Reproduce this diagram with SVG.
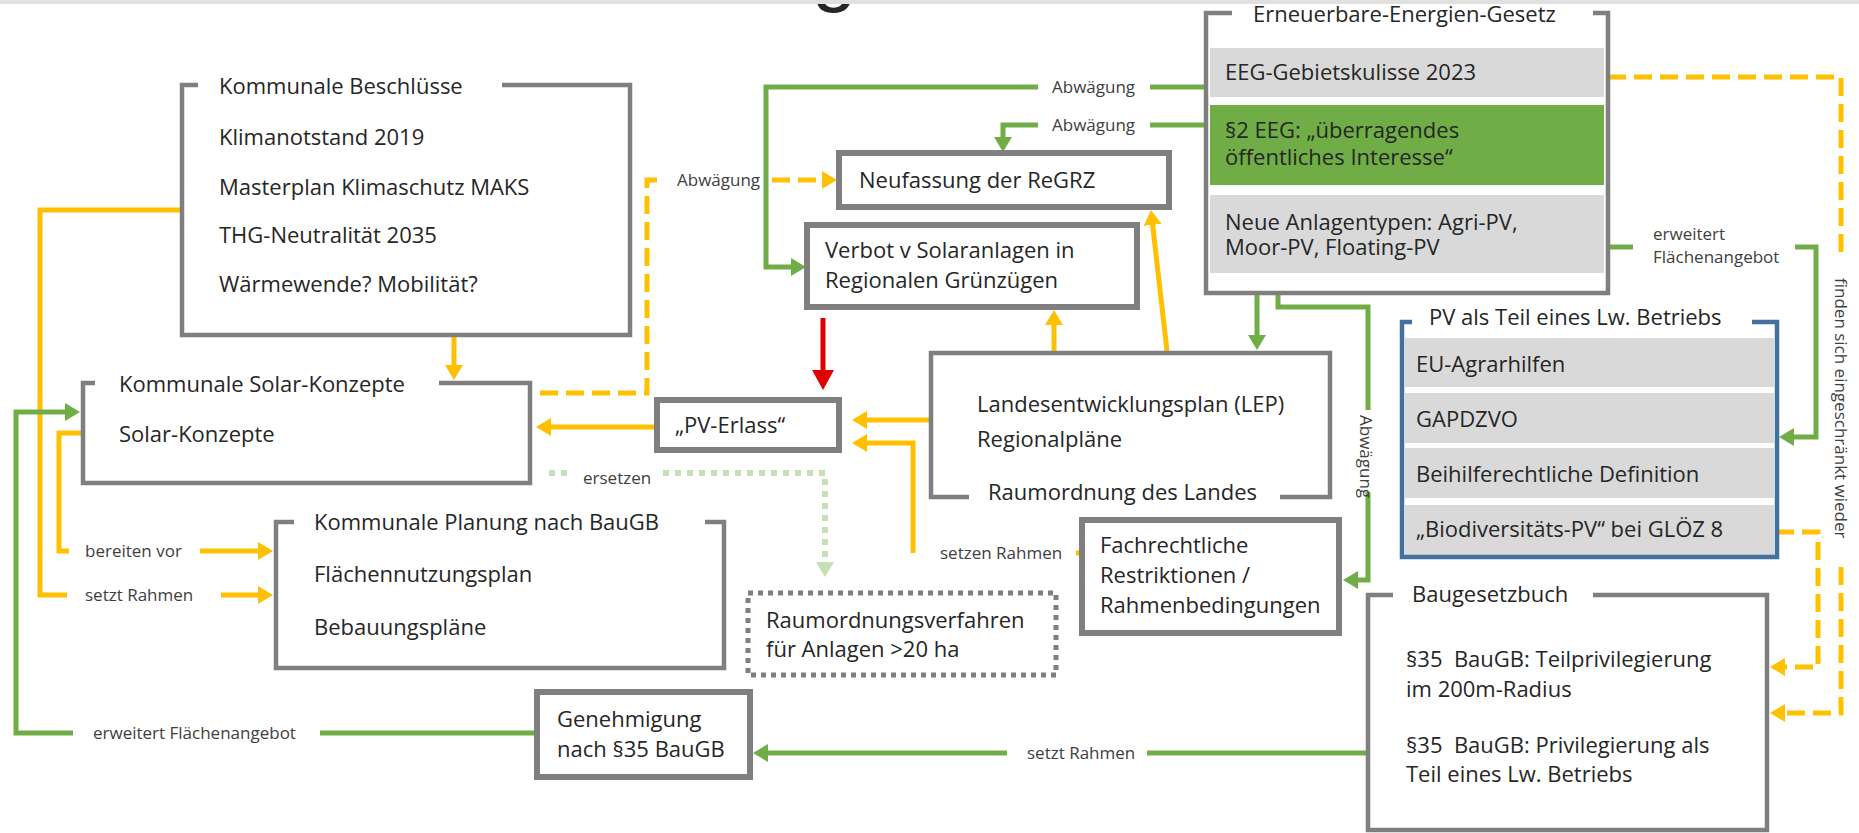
<svg xmlns="http://www.w3.org/2000/svg" width="1859" height="833" viewBox="0 0 1859 833">
<style>
.t{font-family:"Open Sans","Liberation Sans",sans-serif;font-size:22px;fill:#262626}
.s{font-family:"Open Sans","Liberation Sans",sans-serif;font-size:17px;fill:#404040}
.fr{fill:none;stroke:#7f7f7f;stroke-width:4.5}
.tk{fill:#fff;stroke:#7f7f7f;stroke-width:6}
.y{fill:none;stroke:#ffc000;stroke-width:5}
.gr{fill:none;stroke:#70ad47;stroke-width:5}
.d{stroke-dasharray:18 8}
.lg{fill:none;stroke:#c5e0b4;stroke-width:6;stroke-dasharray:6 6}
.gy{fill:#d9d9d9}
</style>
<defs>
<marker id="my" viewBox="0 -9 15 18" refX="3" refY="0" markerWidth="15" markerHeight="18" markerUnits="userSpaceOnUse" orient="auto"><path d="M0,-9 L15,0 L0,9 z" fill="#ffc000"/></marker>
<marker id="mg" viewBox="0 -9 15 18" refX="3" refY="0" markerWidth="15" markerHeight="18" markerUnits="userSpaceOnUse" orient="auto"><path d="M0,-9 L15,0 L0,9 z" fill="#70ad47"/></marker>
<marker id="ml" viewBox="0 -9 15 18" refX="3" refY="0" markerWidth="15" markerHeight="18" markerUnits="userSpaceOnUse" orient="auto"><path d="M0,-9 L15,0 L0,9 z" fill="#c5e0b4"/></marker>
<marker id="mr" viewBox="0 -11 20 22" refX="4" refY="0" markerWidth="20" markerHeight="22" markerUnits="userSpaceOnUse" orient="auto"><path d="M0,-11 L20,0 L0,11 z" fill="#e00000"/></marker>
</defs>
<rect x="0" y="0" width="1859" height="833" fill="#fff"/>
<text x="812" y="-4" font-family="Liberation Sans, sans-serif" font-size="80" fill="#262626">g</text>
<rect x="0" y="0" width="1859" height="4" fill="#e0e0e0"/>

<g id="connectors">
<path class="y" d="M182,210 H40 V595 H67"/>
<path class="y" d="M221,595 H261" marker-end="url(#my)"/>
<path class="y" d="M83,433 H59 V551 H69"/>
<path class="y" d="M200,551 H261" marker-end="url(#my)"/>
<path class="y" d="M454,337 V368" marker-end="url(#my)"/>
<path class="y d" d="M540,393 H647 V180 H662"/>
<path class="y d" d="M772,180 H825" marker-end="url(#my)"/>
<path class="y" d="M657,427 H548" marker-end="url(#my)"/>
<path class="y" d="M931,420 H864" marker-end="url(#my)"/>
<path class="y" d="M913,553 V443 H864" marker-end="url(#my)"/>
<path class="y" d="M1082,553 H1076"/>
<path class="y" d="M1054,351 V322" marker-end="url(#my)"/>
<path class="y" d="M1167,351 L1152.3,221.9" marker-end="url(#my)"/>
<path class="gr" d="M1206,87 H1150"/>
<path class="gr" d="M1038,87 H766 V267 H794" marker-end="url(#mg)"/>
<path class="gr" d="M1206,125 H1150"/>
<path class="gr" d="M1038,125 H1003 V140" marker-end="url(#mg)"/>
<path d="M823,318 V374" fill="none" stroke="#e00000" stroke-width="5" marker-end="url(#mr)"/>
<path class="gr" d="M1257,295 V338" marker-end="url(#mg)"/>
<path class="gr" d="M1278,295 V307 H1368 V410"/>
<path class="gr" d="M1368,492 V580 H1355" marker-end="url(#mg)"/>
<path class="gr" d="M1608,247 H1633"/>
<path class="gr" d="M1795,247 H1816 V437 H1791" marker-end="url(#mg)"/>
<path class="y d" d="M1608,77 H1841 V257"/>
<path class="y d" d="M1841,567 V713 H1782" marker-end="url(#my)"/>
<path class="y d" d="M1776,532 H1818 V667 H1782" marker-end="url(#my)"/>
<path class="gr" d="M1368,753 H1147"/>
<path class="gr" d="M1007,753 H765" marker-end="url(#mg)"/>
<path class="gr" d="M537,733 H320"/>
<path class="gr" d="M73,733 H16 V412 H68" marker-end="url(#mg)"/>
<path class="lg" d="M549,473 H572"/>
<path class="lg" d="M663,473 H825 V565" marker-end="url(#ml)"/>
<text class="s" x="1052" y="93">Abwägung</text>
<text class="s" x="1052" y="131">Abwägung</text>
<text class="s" x="677" y="186">Abwägung</text>
<text class="s" x="1360" y="415" font-size="15" transform="rotate(90 1360 415)">Abwägung</text>
<text class="s" x="1653" y="240" font-size="16">erweitert</text>
<text class="s" x="1653" y="263" font-size="16">Flächenangebot</text>
<text class="s" x="1835" y="278" font-size="16" transform="rotate(90 1835 278)">finden sich eingeschränkt wieder</text>
<text class="s" x="583" y="484">ersetzen</text>
<text class="s" x="940" y="559">setzen Rahmen</text>
<text class="s" x="1027" y="759">setzt Rahmen</text>
<text class="s" x="85" y="557">bereiten vor</text>
<text class="s" x="85" y="601">setzt Rahmen</text>
<text class="s" x="93" y="739">erweitert Flächenangebot</text>
</g>

<g id="kommunale-beschluesse">
<path class="fr" d="M198,85 H182 V335 H630 V85 H502"/>
<text class="t" x="219" y="94">Kommunale Beschlüsse</text>
<text class="t" x="219" y="145">Klimanotstand 2019</text>
<text class="t" x="219" y="195">Masterplan Klimaschutz MAKS</text>
<text class="t" x="219" y="243">THG-Neutralität 2035</text>
<text class="t" x="219" y="292">Wärmewende? Mobilität?</text>
</g>

<g id="solar-konzepte">
<path class="fr" d="M95,383 H83 V483 H530 V383 H439"/>
<text class="t" x="119" y="392">Kommunale Solar-Konzepte</text>
<text class="t" x="119" y="442">Solar-Konzepte</text>
</g>

<g id="kommunale-planung">
<path class="fr" d="M294,522 H276 V668 H724 V522 H705"/>
<text class="t" x="314" y="530">Kommunale Planung nach BauGB</text>
<text class="t" x="314" y="582">Flächennutzungsplan</text>
<text class="t" x="314" y="635">Bebauungspläne</text>
</g>

<g id="genehmigung">
<rect class="tk" x="537" y="692" width="213" height="85"/>
<text class="t" x="557" y="727">Genehmigung</text>
<text class="t" x="557" y="757">nach §35 BauGB</text>
</g>

<g id="pv-erlass">
<rect class="tk" x="657" y="400" width="182" height="50"/>
<text class="t" x="675" y="433">„PV-Erlass“</text>
</g>

<g id="regrz">
<rect class="tk" x="839" y="153" width="330" height="54"/>
<text class="t" x="859" y="188">Neufassung der ReGRZ</text>
</g>

<g id="verbot">
<rect class="tk" x="807" y="225" width="330" height="82"/>
<text class="t" x="825" y="258">Verbot v Solaranlagen in</text>
<text class="t" x="825" y="288">Regionalen Grünzügen</text>
</g>

<g id="lep">
<path class="fr" d="M969,497 H931 V353 H1330 V497 H1280"/>
<text class="t" x="977" y="412">Landesentwicklungsplan (LEP)</text>
<text class="t" x="977" y="447">Regionalpläne</text>
<text class="t" x="988" y="500">Raumordnung des Landes</text>
</g>

<g id="raumordnungsverfahren">
<rect x="748" y="593" width="308" height="82" fill="#fff" stroke="#7f7f7f" stroke-width="5" stroke-dasharray="5 5"/>
<text class="t" x="766" y="628">Raumordnungsverfahren</text>
<text class="t" x="766" y="657">für Anlagen &gt;20 ha</text>
</g>

<g id="fachrechtliche">
<rect class="tk" x="1082" y="520" width="257" height="113"/>
<text class="t" x="1100" y="553">Fachrechtliche</text>
<text class="t" x="1100" y="583">Restriktionen /</text>
<text class="t" x="1100" y="613">Rahmenbedingungen</text>
</g>

<g id="eeg">
<rect class="gy" x="1210" y="48" width="394" height="49"/>
<rect x="1210" y="105" width="394" height="80" fill="#70ad47"/>
<rect class="gy" x="1210" y="195" width="394" height="78"/>
<path class="fr" d="M1232,13 H1206 V293 H1608 V13 H1593"/>
<text class="t" x="1253" y="22">Erneuerbare-Energien-Gesetz</text>
<text class="t" x="1225" y="80">EEG-Gebietskulisse 2023</text>
<text class="t" x="1225" y="138">§2 EEG: „überragendes</text>
<text class="t" x="1225" y="165">öffentliches Interesse“</text>
<text class="t" x="1225" y="230">Neue Anlagentypen: Agri-PV,</text>
<text class="t" x="1225" y="255">Moor-PV, Floating-PV</text>
</g>

<g id="pv-lw-betrieb">
<rect class="gy" x="1405" y="338" width="369" height="49"/>
<rect class="gy" x="1405" y="393" width="369" height="50"/>
<rect class="gy" x="1405" y="448" width="369" height="50"/>
<rect class="gy" x="1405" y="505" width="369" height="50"/>
<path d="M1412,322 H1402 V557 H1777 V322 H1752" fill="none" stroke="#41719c" stroke-width="4.5"/>
<text class="t" x="1429" y="325">PV als Teil eines Lw. Betriebs</text>
<text class="t" x="1416" y="372">EU-Agrarhilfen</text>
<text class="t" x="1416" y="427">GAPDZVO</text>
<text class="t" x="1416" y="482">Beihilferechtliche Definition</text>
<text class="t" x="1416" y="537">„Biodiversitäts-PV“ bei GLÖZ 8</text>
</g>

<g id="baugesetzbuch">
<path class="fr" d="M1393,595 H1368 V830 H1767 V595 H1593"/>
<text class="t" x="1412" y="602">Baugesetzbuch</text>
<text class="t" x="1406" y="667">§35&#160; BauGB: Teilprivilegierung</text>
<text class="t" x="1406" y="697">im 200m-Radius</text>
<text class="t" x="1406" y="753">§35&#160; BauGB: Privilegierung als</text>
<text class="t" x="1406" y="782">Teil eines Lw. Betriebs</text>
</g>
</svg>
